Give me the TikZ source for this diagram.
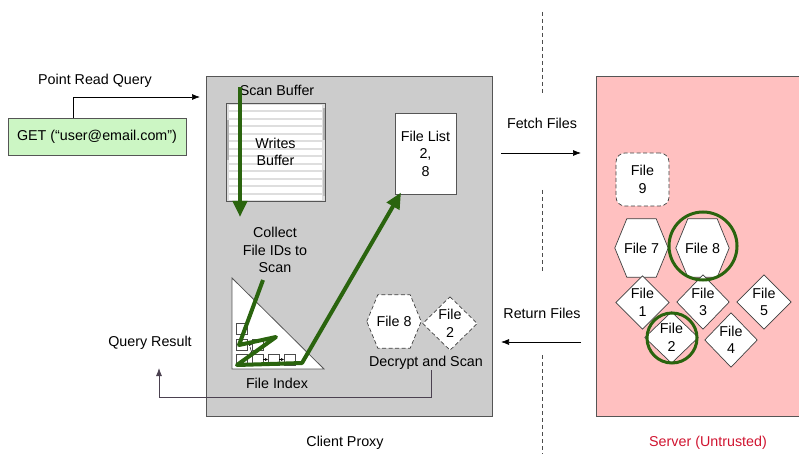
\documentclass[tikz,border=0pt]{standalone}
\usepackage{fontspec}
\setmainfont{Liberation Sans}
\usetikzlibrary{arrows.meta,calc}
\pgfdeclarelayer{back}
\pgfdeclarelayer{mid}
\pgfsetlayers{back,mid,main}

\definecolor{proxygray}{RGB}{204,204,204}
\definecolor{serverpink}{RGB}{255,192,192}
\definecolor{getgreen}{RGB}{204,246,196}
\definecolor{pathgreen}{RGB}{42,100,14}
\definecolor{edgegray}{RGB}{85,85,85}
\definecolor{bufgray}{RGB}{222,222,222}
\definecolor{resultline}{RGB}{75,65,80}
\definecolor{untrusted}{RGB}{208,20,48}

% outlines built from the anchors of a plain rectangular node
\newcommand\hexoutline[2]{(#1.west) -- ([xshift=#2]#1.north west) -- ([xshift=-#2]#1.north east) -- (#1.east) -- ([xshift=-#2]#1.south east) -- ([xshift=#2]#1.south west) -- cycle}
\newcommand\diaoutline[1]{(#1.north) -- (#1.east) -- (#1.south) -- (#1.west) -- cycle}

\begin{document}
\begin{tikzpicture}[x=1pt,y=-1pt,
  font=\fontsize{14.3}{17.5}\selectfont,
  every node/.style={inner sep=0pt, align=center},
  region/.style={draw=edgegray, line width=0.9pt},
  slot/.style={rectangle, inner sep=0pt, align=center},
  outline/.style={draw=black!75, fill=white, line width=0.7pt},
  dashedline/.style={outline, dash pattern=on 4pt off 2.5pt},
  flow/.style={draw=black, line width=0.7pt, -{Latex[length=8pt,width=6pt]}},
  resultflow/.style={draw=resultline, line width=0.8pt, -{Latex[length=8pt,width=6pt]}},
  greenpath/.style={draw=pathgreen, line width=4pt, line join=round, -{Triangle[length=16pt,width=14pt]}},
  ring/.style={circle, draw=pathgreen, line width=3pt, inner sep=0pt},
  cell/.style={draw=black!70, fill=white, line width=0.6pt},
  tinyarrow/.style={draw=black, line width=0.5pt, -{Latex[length=3pt,width=3pt]}},
  divider/.style={draw=black!70, line width=0.8pt, dash pattern=on 4pt off 3pt}]

\useasboundingbox (0,0) rectangle (799,454);
\clip (0,0) rectangle (799,454);

% trust regions
\begin{pgfonlayer}{back}
  \node[region, fill=proxygray, minimum width=286pt, minimum height=340pt, anchor=north west] (proxy) at (206,76) {};
  \node[region, fill=serverpink, minimum width=230pt, minimum height=340pt, anchor=north west] (server) at (596,76) {};
\end{pgfonlayer}

% trust boundary
\draw[divider] (542,12) -- (542,93);
\draw[divider] (542,190) -- (542,273);
\draw[divider] (542,355) -- (542,454);

% incoming query
\node (pointread) at (95,81) {Point Read Query};
\node[draw=edgegray, fill=getgreen, line width=0.8pt, minimum width=178pt, minimum height=37pt] (get) at (97,136.5) {GET (“user@email.com”)};
\coordinate (queryIn) at (200,97);
\draw[flow] ([xshift=-24pt]get.north) |- (queryIn);

% scan buffer: a stack of write pages
\node (scanbuf) at (277,90) {Scan Buffer};
\node[slot, draw=edgegray, line width=0.9pt, minimum width=99pt, minimum height=98pt] (writes) at (275.5,152) {Writes\\Buffer};
\begin{pgfonlayer}{mid}
  \fill[bufgray] (writes.north west) rectangle (writes.south east);
  \fill[black!30] (226,120) rectangle (228.5,160);
  \fill[black!30] (322.5,108) rectangle (325,140);
  \fill[black!25] (322.5,170) rectangle (325,196);
  \foreach \k in {0,...,12}
    \fill[white] (229,105+7.5*\k) rectangle (322,110.5+7.5*\k);
\end{pgfonlayer}
\coordinate (scanTop) at (240,87);
\coordinate (scanEnd) at (240,217);
\draw[greenpath] (scanTop) -- (scanEnd);

\node (collect) at (275,250) {Collect\\File IDs to\\Scan};

% file index
\draw[draw=edgegray, fill=white, line width=0.8pt] (232,278) -- (232,369) -- (324,369) -- cycle;
\node (fileindex) at (277,383) {File Index};
\foreach \cx/\cy in {236/323, 236/339, 252/339, 236/354, 252/354, 268/354, 284/354}
  \draw[cell] (\cx,\cy) rectangle ++(11,11);
\draw[tinyarrow] (247,344.5) -- (252,344.5);
\draw[tinyarrow] (263,359.5) -- (268,359.5);
\draw[tinyarrow] (279,359.5) -- (284,359.5);
\draw[tinyarrow] (250,347) -- (252.5,355);

% file list
\node[slot, draw=edgegray, fill=white, line width=0.9pt, minimum width=61pt, minimum height=81pt] (filelist) at (425.5,153.5) {File List\\2,\\8};
\coordinate (listTip) at ([xshift=-24.5pt,yshift=2pt]filelist.south);
\draw[greenpath] (263,280) -- (239,345) -- (276,337) -- (237,365) -- (302,363) -- (listTip);

% fetched files being decrypted
\node[slot, minimum width=54pt, minimum height=53pt] (cf8) at (394,321.5) {File 8};
\node[slot, minimum width=54pt, minimum height=53pt] (cf2) at (450,323.5) {File\\2};
\begin{pgfonlayer}{mid}
  \draw[dashedline] \hexoutline{cf8}{11pt};
  \draw[dashedline] \diaoutline{cf2};
\end{pgfonlayer}
\node (decrypt) at (426,363) {Decrypt and Scan};

% result back to the caller
\node (queryresult) at (150,343) {Query Result};
\coordinate (resultTip) at (159,368);
\coordinate (resultBend) at (431,397);
\draw[resultflow] (decrypt.south -| resultBend) -- (resultBend) -| (resultTip);

% traffic across the boundary
\node (fetchlbl) at (542,123) {Fetch Files};
\coordinate (fetchA) at (501,153);
\coordinate (fetchB) at (581,153);
\draw[flow] (fetchA) -- (fetchB);
\node (returnlbl) at (542,313) {Return Files};
\coordinate (returnA) at (581,342);
\coordinate (returnB) at (501,342);
\draw[flow] (returnA) -- (returnB);

% files stored on the server
\node[slot, dashedline, rounded corners=9pt, minimum width=53pt, minimum height=53pt] (f9) at (642.5,179.5) {File\\9};
\node[slot, minimum width=53pt, minimum height=58pt] (f7) at (641.5,248) {File 7};
\node[slot, minimum width=53pt, minimum height=58pt] (f8) at (702.5,248) {File 8};
\node[slot, minimum width=53pt, minimum height=53pt] (f1) at (642.5,302.5) {File\\1};
\node[slot, minimum width=52pt, minimum height=54pt] (f3) at (703,302) {File\\3};
\node[slot, minimum width=54pt, minimum height=54pt] (f5) at (764,302) {File\\5};
\node[slot, minimum width=53pt, minimum height=51pt] (f2) at (671.5,337.5) {File\\2};
\node[slot, minimum width=52pt, minimum height=54pt] (f4) at (731,340) {File\\4};
\begin{pgfonlayer}{mid}
  \draw[outline] \hexoutline{f7}{12pt};
  \draw[outline] \hexoutline{f8}{12pt};
  \draw[outline] \diaoutline{f1};
  \draw[outline] \diaoutline{f3};
  \draw[outline] \diaoutline{f5};
  \draw[outline] \diaoutline{f2};
  \draw[outline] \diaoutline{f4};
\end{pgfonlayer}
\node[ring, minimum size=68pt] (ring8) at (703,246) {};
\node[ring, minimum size=50pt] (ring2) at (672,338) {};

% region captions
\node (clientcap) at (345,443) {Client Proxy};
\node[text=untrusted] (servercap) at (708,443) {Server (Untrusted)};

\end{tikzpicture}
\end{document}
